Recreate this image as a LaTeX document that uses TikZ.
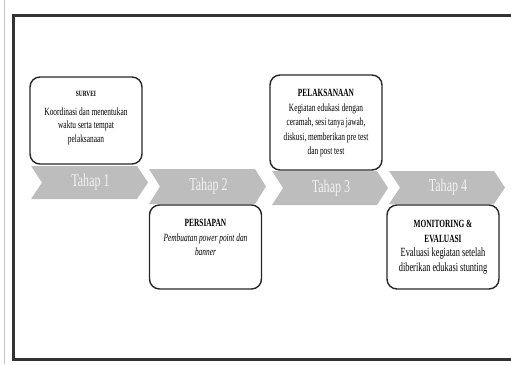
\documentclass[tikz,border=0pt]{standalone}
\usepackage{fontspec}
\setmainfont{Liberation Serif}[FakeStretch=0.67]
\definecolor{chevgray}{HTML}{BDBDBD}
\definecolor{labwhite}{HTML}{F2F2F2}
\definecolor{framegray}{HTML}{333333}
\definecolor{thingray}{HTML}{C4C4C4}
\newcommand\mychev[6]{%
  \fill[chevgray] (#2,#4) -- ({#3-11},#4) -- (#3,{(#4+#5)/2}) -- ({#3-11},#5) -- (#2,#5) -- ({#2+11},{(#4+#5)/2}) -- cycle;
  \node[tahap] (#1) at ({(#2+#3)/2+1},{(#4+#5)/2}) {#6};}
\begin{document}
\begin{tikzpicture}[x=1pt,y=-1pt,
  box/.style={draw=black!85, line width=1.4pt, rounded corners=10pt, inner sep=0pt, minimum width=112pt},
  boxtext/.style={align=center, inner sep=0pt, text=black, font=\fontsize{11}{14.5}\selectfont},
  tahap/.style={text=labwhite, font=\fontsize{18}{18}\selectfont, inner sep=0pt}]
\useasboundingbox (0,0) rectangle (511,364);
% frame
\draw[thingray, line width=1pt] (4,0) -- (4,364);
\draw[framegray, line width=3pt] (530,15.5) -- (13.5,15.5) -- (13.5,359) -- (530,359);
% chevrons
\mychev{c1}{31}{148}{166}{199}{Tahap 1}
\mychev{c2}{149}{266}{169}{204}{Tahap 2}
\mychev{c3}{272}{388}{171}{205}{Tahap 3}
\mychev{c4}{389}{505}{171}{204}{Tahap 4}
% boxes
\node[box, minimum height=87pt] (b1) at (86,120.5) {};
\node[box, minimum height=84pt] (b2) at (205.5,247) {};
\node[box, minimum height=95pt] (b3) at (326,122.5) {};
\node[box, minimum height=84pt] (b4) at (443,247) {};
% texts
\node[boxtext, anchor=north, font=\fontsize{11}{13.5}\selectfont] (t1) at ([yshift=-15pt]b1.north)
  {{\fontsize{8}{13.5}\selectfont\bfseries SURVEI}\\[5pt]Koordinasi dan menentukan\\waktu serta tempat\\pelaksanaan};
\node[boxtext, anchor=north] (t2) at ([yshift=-15pt]b2.north)
  {{\bfseries PERSIAPAN}\\\itshape Pembuatan power point dan\\\itshape banner};
\node[boxtext, anchor=north] (t3) at ([yshift=-15pt]b3.north)
  {{\bfseries PELAKSANAAN}\\Kegiatan edukasi dengan\\ceramah, sesi tanya jawab,\\diskusi, memberikan pre test\\dan post test};
\node[boxtext, anchor=north] (t4) at ([yshift=-16pt]b4.north)
  {{\bfseries MONITORING \&}\\{\bfseries EVALUASI}\\{\fontsize{12.5}{15.5}\selectfont Evaluasi kegiatan setelah}\\{\fontsize{12.5}{15.5}\selectfont diberikan edukasi stunting}};
\end{tikzpicture}
\end{document}
